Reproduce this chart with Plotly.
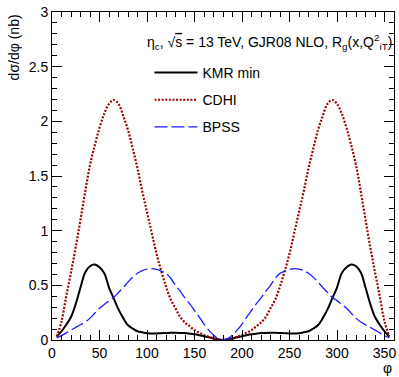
import plotly.graph_objects as go

phi = [5, 10, 15, 20, 25, 30, 35, 40, 45, 50, 55, 60, 65, 70, 75, 80, 85, 90,
       95, 100, 105, 110, 115, 120, 125, 130, 135, 140, 145, 150, 155, 160, 165,
       170, 175, 180, 185, 190, 195, 200, 205, 210, 215, 220, 225, 230, 235, 240,
       245, 250, 255, 260, 265, 270, 275, 280, 285, 290, 295, 300, 305, 310, 315,
       320, 325, 330, 335, 340, 345, 350, 355]

kmr_min = [0.03, 0.08, 0.14, 0.21, 0.33, 0.48, 0.62, 0.675, 0.69, 0.665, 0.61, 0.48,
           0.38, 0.28, 0.20, 0.135, 0.105, 0.08, 0.07, 0.062, 0.06, 0.06, 0.062, 0.064,
           0.066, 0.066, 0.065, 0.063, 0.058, 0.052, 0.044, 0.035, 0.025, 0.014, 0.005,
           0.0,
           0.005, 0.014, 0.025, 0.035, 0.044, 0.052, 0.058, 0.063, 0.065, 0.066, 0.066,
           0.064, 0.062, 0.06, 0.06, 0.062, 0.07, 0.08, 0.105, 0.135, 0.20, 0.28, 0.38,
           0.48, 0.61, 0.665, 0.69, 0.675, 0.62, 0.48, 0.33, 0.21, 0.14, 0.08, 0.03]

cdhi = [0.03, 0.17, 0.40, 0.62, 0.85, 1.10, 1.36, 1.60, 1.78, 1.94, 2.07, 2.16,
        2.195, 2.16, 2.05, 1.92, 1.75, 1.57, 1.36, 1.17, 0.98, 0.79, 0.63, 0.49,
        0.37, 0.29, 0.21, 0.16, 0.125, 0.09, 0.066, 0.045, 0.03, 0.017, 0.006,
        0.0,
        0.006, 0.017, 0.03, 0.045, 0.066, 0.09, 0.125, 0.16, 0.21, 0.29, 0.37,
        0.49, 0.63, 0.79, 0.98, 1.17, 1.36, 1.57, 1.75, 1.92, 2.05, 2.16, 2.195,
        2.16, 2.07, 1.94, 1.78, 1.60, 1.36, 1.10, 0.85, 0.62, 0.40, 0.17, 0.03]

bpss = [0.02, 0.04, 0.065, 0.09, 0.115, 0.14, 0.165, 0.20, 0.245, 0.29, 0.325, 0.36,
        0.39, 0.435, 0.48, 0.53, 0.575, 0.61, 0.635, 0.648, 0.652, 0.645, 0.63, 0.61,
        0.565, 0.50, 0.445, 0.385, 0.33, 0.27, 0.21, 0.145, 0.09, 0.045, 0.013,
        0.0,
        0.013, 0.045, 0.09, 0.145, 0.21, 0.27, 0.33, 0.385, 0.445, 0.50, 0.565,
        0.61, 0.63, 0.645, 0.652, 0.648, 0.635, 0.61, 0.575, 0.53, 0.48, 0.435,
        0.39, 0.36, 0.325, 0.29, 0.245, 0.20, 0.165, 0.14, 0.115, 0.09, 0.065,
        0.04, 0.02]

FONT = "Liberation Sans, Arial, Helvetica, sans-serif"

fig = go.Figure()
fig.add_trace(go.Scatter(x=phi, y=kmr_min, mode="lines", name="KMR min",
                         legendgroup="a",
                         line=dict(color="black", width=2, shape="spline")))
fig.add_trace(go.Scatter(x=phi, y=cdhi, mode="lines", name="CDHI",
                         legendgroup="b",
                         line=dict(color="#a00000", width=2.2, dash="2px,1.6px",
                                   shape="spline")))
fig.add_trace(go.Scatter(x=phi, y=bpss, mode="lines", name="BPSS",
                         legendgroup="c",
                         line=dict(color="#1a1aff", width=1.3, dash="13px,4px",
                                   shape="spline")))

axis_common = dict(
    showline=True, linecolor="black", linewidth=1, mirror="allticks",
    ticks="inside", ticklen=10, tickwidth=1, tickcolor="black",
    showgrid=False, zeroline=False,
    tickfont=dict(family=FONT, size=14, color="black"),
)

fig.update_layout(
    width=399, height=377,
    margin=dict(l=52, r=3, t=12, b=37),
    paper_bgcolor="white", plot_bgcolor="white",
    font=dict(family=FONT, size=14, color="black"),
    showlegend=True,
    legend=dict(x=0.285, y=0.863, xanchor="left", yanchor="top",
                bgcolor="rgba(0,0,0,0)", borderwidth=0,
                traceorder="grouped", tracegroupgap=6, itemwidth=43,
                font=dict(family=FONT, size=14, color="black")),
    xaxis=dict(range=[0, 360], dtick=50, tick0=0,
               minor=dict(dtick=10, ticklen=5, ticks="inside", tickcolor="black"),
               **axis_common),
    yaxis=dict(range=[0, 3], dtick=0.5, tick0=0,
               minor=dict(dtick=0.1, ticklen=5, ticks="inside", tickcolor="black"),
               **axis_common),
)

fig.add_annotation(
    text="η<sub>c</sub>, √<span style='text-decoration:overline'>s</span> = 13 TeV, GJR08 NLO, R<sub>g</sub>(x,Q<sup>2</sup><sub>iT</sub>)",
    xref="paper", yref="paper", x=1.0, y=(340 - 42) / 328, xanchor="right",
    yanchor="middle", showarrow=False,
    font=dict(family=FONT, size=14, color="black"))

fig.add_annotation(
    text="dσ/dφ (nb)", textangle=-90,
    xref="paper", yref="paper", x=-0.11, y=1.0, xanchor="center", yanchor="top",
    showarrow=False, font=dict(family=FONT, size=14, color="black"))

fig.add_annotation(
    text="φ", xref="paper", yref="paper", x=1.0, y=-0.085, xanchor="right",
    yanchor="middle", showarrow=False,
    font=dict(family=FONT, size=14, color="black"))

fig.write_html(
    "out.html",
    config={"displayModeBar": False},
    post_script="document.body.style.margin='0px';document.body.style.overflow='hidden';",
)
